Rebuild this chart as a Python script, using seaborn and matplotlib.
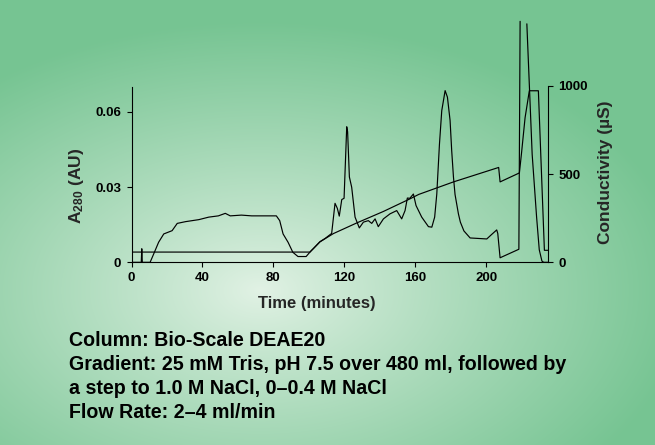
import numpy as np
import pandas as pd
import matplotlib
matplotlib.use("Agg")
import matplotlib.pyplot as plt
import seaborn as sns

# ---------------- data ----------------
# A280 trace, first segment (up to the off-scale peak)
abs_time_1 = [0, 5.5, 5.8, 6.1, 10.5, 12.5, 15.3, 18.2, 22.9, 25.8, 30.5, 38, 43.6, 49,
              52.9, 55.7, 62, 67.8, 81.7, 83.6, 85.5, 88.3, 91, 93.9, 98.5, 101.3,
              102.6, 106.3, 109.2, 112.9, 114.8, 116.1, 117.2, 118.6, 119.9, 121.4,
              121.9, 122.9, 124.2, 126.1, 128.5, 130.8, 133.6, 135.5, 137.4, 139.2,
              142.1, 145.8, 149.6, 152.4, 154.3, 155.6, 157, 159, 160.5, 163.7, 167.5,
              169.4, 171, 172.2, 173.7, 175, 176.9, 178.2, 179.7, 180.6, 181.6, 182.5,
              184.4, 185.5, 187.5, 191, 200.4, 203, 206, 206.6, 207.9, 218.5, 219.2]
abs_value_1 = [0, 0, 0.0054, 0, 0, 0.0033, 0.008, 0.0113, 0.0126, 0.0155, 0.0162, 0.017,
               0.018, 0.0185, 0.0195, 0.0185, 0.0188, 0.0185, 0.0185, 0.0166, 0.0113,
               0.008, 0.004, 0.0023, 0.0023, 0.0046, 0.0055, 0.0082, 0.0095, 0.0115,
               0.0235, 0.0215, 0.0184, 0.025, 0.0255, 0.054, 0.052, 0.034, 0.0299,
               0.018, 0.0137, 0.016, 0.0166, 0.0155, 0.0173, 0.0142, 0.0173, 0.0193,
               0.0206, 0.0173, 0.0206, 0.0256, 0.0255, 0.0272, 0.0226, 0.018, 0.0142,
               0.014, 0.018, 0.0272, 0.047, 0.0604, 0.0684, 0.0658, 0.0565, 0.0446,
               0.034, 0.027, 0.0193, 0.016, 0.0125, 0.0097, 0.0093, 0.011, 0.0129,
               0.0115, 0.0018, 0.0052, 0.096]
# A280 trace, second segment (after the off-scale peak)
abs_time_2 = [223, 226, 228.5, 230, 231.5, 232.5, 235]
abs_value_2 = [0.095, 0.043, 0.018, 0.005, 0.0005, 0, 0]

# Conductivity trace (µS)
cond_time = [0, 100.7, 106.3, 113.9, 127, 142, 157.1, 162, 181.6, 207.1, 207.9,
             218.8, 220, 222, 224.4, 229.5, 232.9, 235]
cond_value = [58, 58, 116, 163, 223, 288, 360, 385, 456, 538, 456, 507, 620, 820,
              973, 973, 68, 68]

x_ticks = [0, 40, 80, 120, 160, 200]
left_ticks = [0, 0.03, 0.06]
left_tick_labels = ["0", "0.03", "0.06"]
right_ticks = [0, 500, 1000]

x_label = "Time (minutes)"
left_label = r"A$_{\mathrm{280}}$ (AU)"
right_label = "Conductivity (µS)"
info_lines = [
    "Column: Bio-Scale DEAE20",
    "Gradient: 25 mM Tris, pH 7.5 over 480 ml, followed by",
    "a step to 1.0 M NaCl, 0–0.4 M NaCl",
    "Flow Rate: 2–4 ml/min",
]

# ---------------- style ----------------
sns.set_style("ticks")
plt.rcParams["font.family"] = ["Liberation Sans", "DejaVu Sans"]
plt.rcParams["font.weight"] = "bold"
plt.rcParams["mathtext.fontset"] = "custom"
plt.rcParams["mathtext.rm"] = "Liberation Sans:bold"
plt.rcParams["mathtext.bf"] = "Liberation Sans:bold"
plt.rcParams["mathtext.it"] = "Liberation Sans:bold"

W, H = 655, 445
fig = plt.figure(figsize=(W / 100, H / 100), dpi=100)

# background radial gradient
bg = fig.add_axes([0, 0, 1, 1], zorder=-10)
yy, xx = np.mgrid[0:H, 0:W]
r = np.sqrt(((xx - 260) / 430.0) ** 2 + ((yy - 290) / 270.0) ** 2)
t = np.clip(r, 0, 1) ** 0.9
center = np.array([226, 242, 229]) / 255.0
edge = np.array([118, 196, 146]) / 255.0
img = center + (edge - center) * t[..., None]
bg.imshow(img, aspect="auto", extent=[0, 1, 0, 1], interpolation="bilinear")
bg.axis("off")

# main axes (pixel geometry of reference)
x0, x1 = 131.5, 548.3
y0, y1 = 262.3, 15.0
ax = fig.add_axes([x0 / W, 1 - y0 / H, (x1 - x0) / W, (y0 - y1) / H])
ax.set_facecolor("none")

px_per_au = 150.6 / 0.06
px_per_us = 176.3 / 1000
line_w = 0.85

df_a1 = pd.DataFrame({"time": abs_time_1, "A280": abs_value_1})
df_a2 = pd.DataFrame({"time": abs_time_2, "A280": abs_value_2})
sns.lineplot(data=df_a1, x="time", y="A280", ax=ax, color="black", lw=line_w, sort=False,
             estimator=None)
sns.lineplot(data=df_a2, x="time", y="A280", ax=ax, color="black", lw=line_w, sort=False,
             estimator=None)

ax.set_xlim(0, 235.1)
ax.set_ylim(0, (y0 - y1) / px_per_au)
ax.set_xticks(x_ticks)
ax.set_xticklabels([str(v) for v in x_ticks])
ax.set_yticks(left_ticks)
ax.set_yticklabels(left_tick_labels)
ax.spines["top"].set_visible(False)
ax.spines["right"].set_visible(False)
ax.spines["left"].set_bounds(0, 0.07)
for s in ("left", "bottom"):
    ax.spines[s].set_linewidth(0.8)
    ax.spines[s].set_color("black")
ax.tick_params(axis="x", length=3.3, width=0.8, pad=4, labelsize=9.5, colors="black")
ax.tick_params(axis="y", length=3.3, width=0.8, pad=4, labelsize=9.5, colors="black")

ax.set_xlabel(x_label, fontsize=12, fontweight="bold")
ax.xaxis.set_label_coords((317 - x0) / (x1 - x0), -(296 - y0) / (y0 - y1))
ax.set_ylabel(left_label, fontsize=12.5, fontweight="bold")
ax.yaxis.set_label_coords(-(x0 - 86) / (x1 - x0), (y0 - 185.5) / (y0 - y1))

# conductivity on twin axis
ax2 = ax.twinx()
ax2.set_facecolor("none")
df_c = pd.DataFrame({"time": cond_time, "cond": cond_value})
sns.lineplot(data=df_c, x="time", y="cond", ax=ax2, color="black", lw=line_w, sort=False,
             estimator=None)
ax2.set_xlim(0, 235.1)
ax2.set_ylim(0, (y0 - y1) / px_per_us)
ax2.set_yticks(right_ticks)
ax2.set_yticklabels([str(v) for v in right_ticks])
for s in ("top", "left", "bottom"):
    ax2.spines[s].set_visible(False)
ax2.spines["right"].set_bounds(0, 1000)
ax2.spines["right"].set_linewidth(0.8)
ax2.spines["right"].set_color("black")
ax2.tick_params(axis="y", length=3.3, width=0.8, pad=4, labelsize=9.5, colors="black")
ax2.set_ylabel(right_label, fontsize=12.5, fontweight="bold")
ax2.yaxis.set_label_coords((598 - x0) / (x1 - x0), (y0 - 172.5) / (y0 - y1))
ax2.set_xlabel("")

# info text block
baselines = [345.7, 370.0, 394.2, 417.8]
for line, yb in zip(info_lines, baselines):
    fig.text(69 / W, 1 - yb / H, line, fontsize=14.1, fontweight="bold",
             ha="left", va="baseline", color="black")

fig.savefig("out.png", dpi=100)
